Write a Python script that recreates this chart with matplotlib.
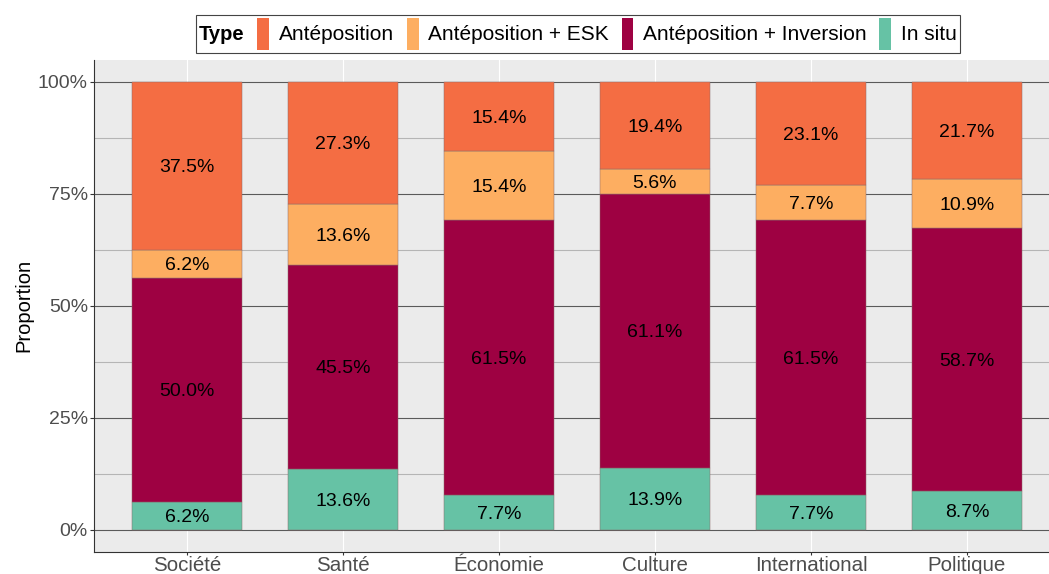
import numpy as np
import matplotlib
matplotlib.use("Agg")
import matplotlib.pyplot as plt
from matplotlib.patches import Rectangle
from matplotlib.offsetbox import (AnchoredOffsetbox, DrawingArea, HPacker,
                                  TextArea)

plt.rcParams['font.family'] = ['Liberation Sans', 'DejaVu Sans']

# données : nombre d'occurrences par rubrique et par type
rubriques = ["Société", "Santé", "Économie", "Culture", "International", "Politique"]
types = ["Antéposition", "Antéposition + ESK", "Antéposition + Inversion", "In situ"]
in_situ = [1, 3, 1, 5, 1, 4]
inversion = [8, 10, 8, 22, 8, 27]
esk = [1, 3, 2, 2, 1, 5]
anteposition = [6, 6, 2, 7, 3, 10]
couleurs = {"Antéposition": "#F46D43", "Antéposition + ESK": "#FDAE61",
            "Antéposition + Inversion": "#9E0142", "In situ": "#66C2A5"}

W, H = 1049, 574
fig = plt.figure(figsize=(W / 100, H / 100), dpi=100)
# le panneau dépasse à droite comme dans l'original
ax = fig.add_axes([93.5 / W, (H - 552.3) / H, 967 / W, 492.8 / H])
ax.set_facecolor("#EBEBEB")

x = np.arange(len(rubriques))
counts = np.array([in_situ, inversion, esk, anteposition], dtype=float)
props = counts / counts.sum(axis=0) * 100
ordre = ["In situ", "Antéposition + Inversion", "Antéposition + ESK", "Antéposition"]

bottom = np.zeros(len(rubriques))
for serie, nom in zip(props, ordre):
    ax.bar(x, serie, width=0.7, bottom=bottom, color=couleurs[nom],
           edgecolor="#8a6a6a", linewidth=0.35, zorder=3)
    for xi, b, v in zip(x, bottom, serie):
        ax.text(xi, b + v / 2, f"{v:.1f}%", ha="center", va="center_baseline",
                fontsize=14, color="black", zorder=4)
    bottom += serie

ax.set_xlim(-0.6, 5.6)
ax.set_ylim(-5, 105)
ax.set_xticks(x)
ax.set_xticklabels(rubriques)
ax.set_yticks([0, 25, 50, 75, 100])
ax.set_yticklabels(["0%", "25%", "50%", "75%", "100%"])
ax.set_yticks([12.5, 37.5, 62.5, 87.5], minor=True)
ax.tick_params(axis="both", which="major", labelsize=14, labelcolor="#4D4D4D",
               color="#333333", width=0.8)
ax.tick_params(axis="y", which="major", length=3, pad=1)
ax.tick_params(axis="x", which="major", length=2, pad=1, labelsize=14.8)
ax.tick_params(axis="y", which="minor", length=0)

# grille
ax.grid(axis="y", which="major", color="#5a5a5a", linewidth=0.8, zorder=1)
ax.grid(axis="y", which="minor", color="#b5b5b5", linewidth=0.8, zorder=1)
ax.grid(axis="x", which="major", color="white", linewidth=0.8, zorder=1)
ax.set_axisbelow(True)

for s in ["top", "right"]:
    ax.spines[s].set_visible(False)
for s in ["left", "bottom"]:
    ax.spines[s].set_color("#333333")
    ax.spines[s].set_linewidth(0.8)

ax.set_ylabel("Proportion", fontsize=14.5, labelpad=3)

# légende horizontale avec titre à gauche
elements = [TextArea("Type", textprops=dict(fontsize=14.5, fontweight="bold"))]
for nom in types:
    da = DrawingArea(8.6, 23, 0, 0)
    da.add_artist(Rectangle((0, 0), 8.6, 23, facecolor=couleurs[nom], edgecolor="none"))
    elements.append(HPacker(children=[da, TextArea(nom, textprops=dict(fontsize=15))],
                            pad=0, sep=7, align="center"))
boite = HPacker(children=elements, pad=0, sep=9, align="center")
leg = AnchoredOffsetbox(loc="center", child=boite, pad=0.25, borderpad=0,
                        frameon=True, bbox_to_anchor=(578 / W, 1 - 34 / H),
                        bbox_transform=fig.transFigure)
leg.patch.set_edgecolor("#444444")
leg.patch.set_linewidth(0.8)
leg.patch.set_boxstyle("square", pad=0)
fig.add_artist(leg)

fig.savefig("out.png", dpi=100)
